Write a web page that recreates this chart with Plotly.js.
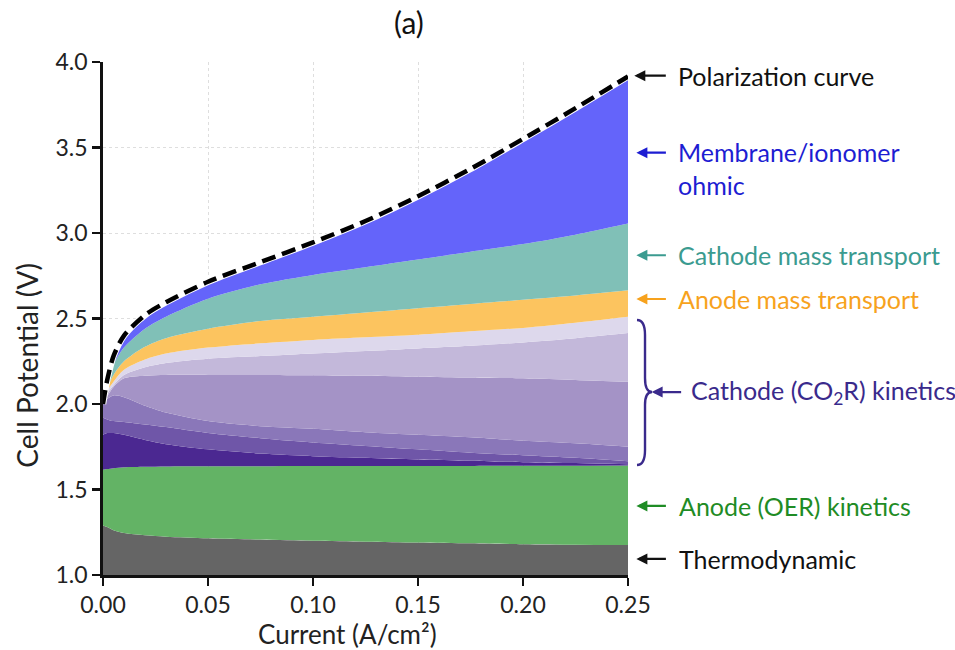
<!DOCTYPE html>
<html>
<head>
<meta charset="utf-8">
<script src="https://cdn.plot.ly/plotly-3.0.1.min.js"></script>
<style>
  html, body { margin: 0; padding: 0; background: #ffffff; }
  #chart { width: 955px; height: 650px; }
</style>
</head>
<body>
<div id="chart"></div>
<script>
// Current density (A/cm^2)
const current = [0, 0.002, 0.005, 0.01, 0.02, 0.03, 0.05, 0.075, 0.10, 0.125, 0.15, 0.175, 0.20, 0.225, 0.25];

// Cumulative cell potential (V) at the upper edge of each loss band
const thermodynamicTop   = [1.29, 1.28, 1.262, 1.245, 1.232, 1.224, 1.215, 1.207, 1.200, 1.195, 1.190, 1.185, 1.180, 1.177, 1.175];
const anodeKineticsTop   = [1.615, 1.62, 1.625, 1.63, 1.633, 1.635, 1.636, 1.636, 1.637, 1.637, 1.638, 1.638, 1.639, 1.639, 1.640];
const cathodeKin1Top     = [1.82, 1.83, 1.83, 1.82, 1.79, 1.765, 1.735, 1.71, 1.695, 1.685, 1.675, 1.668, 1.66, 1.655, 1.648];
const cathodeKin2Top     = [1.92, 1.91, 1.90, 1.895, 1.88, 1.865, 1.83, 1.80, 1.775, 1.755, 1.735, 1.715, 1.70, 1.685, 1.665];
const cathodeKin3Top     = [2.00, 2.03, 2.05, 2.04, 1.99, 1.95, 1.90, 1.87, 1.855, 1.835, 1.82, 1.805, 1.785, 1.77, 1.75];
const cathodeKin4Top     = [2.00, 2.045, 2.10, 2.15, 2.165, 2.17, 2.17, 2.17, 2.168, 2.165, 2.16, 2.155, 2.15, 2.14, 2.13];
const cathodeKin5Top     = [2.00, 2.06, 2.11, 2.17, 2.215, 2.24, 2.265, 2.28, 2.295, 2.31, 2.325, 2.34, 2.36, 2.385, 2.415];
const cathodeKin6Top     = [2.00, 2.075, 2.13, 2.20, 2.26, 2.295, 2.33, 2.355, 2.375, 2.39, 2.405, 2.425, 2.445, 2.475, 2.51];
const anodeMassTop       = [2.00, 2.09, 2.17, 2.25, 2.335, 2.385, 2.44, 2.485, 2.51, 2.535, 2.56, 2.585, 2.61, 2.635, 2.665];
const cathodeMassTop     = [2.00, 2.11, 2.23, 2.33, 2.44, 2.51, 2.615, 2.70, 2.755, 2.80, 2.845, 2.89, 2.935, 2.99, 3.055];
const ohmicTop           = [2.00, 2.13, 2.27, 2.39, 2.51, 2.59, 2.71, 2.825, 2.94, 3.065, 3.21, 3.37, 3.545, 3.722, 3.905];
const polarizationCurve  = [2.00, 2.14, 2.28, 2.40, 2.52, 2.595, 2.715, 2.83, 2.945, 3.07, 3.215, 3.375, 3.55, 3.73, 3.915];

// Axis ticks
const xTicks = [0, 0.05, 0.10, 0.15, 0.20, 0.25];
const yTicks = [1.0, 1.5, 2.0, 2.5, 3.0, 3.5, 4.0];

// Band labels on the right
const labelTexts = ['Polarization curve', 'Membrane/ionomer<br>ohmic', 'Cathode mass transport',
                    'Anode mass transport', 'Cathode (CO<sub>2</sub>R) kinetics', 'Anode (OER) kinetics', 'Thermodynamic'];
const labelVolts = [3.92, 3.47, 2.87, 2.614, 2.07, 1.404, 1.094];

const bands = [
  { y: thermodynamicTop, color: '#656565' },
  { y: anodeKineticsTop, color: '#63b365' },
  { y: cathodeKin1Top,   color: '#4b2891' },
  { y: cathodeKin2Top,   color: '#6f56a8' },
  { y: cathodeKin3Top,   color: '#8a77b9' },
  { y: cathodeKin4Top,   color: '#a493c6' },
  { y: cathodeKin5Top,   color: '#c3b8da' },
  { y: cathodeKin6Top,   color: '#ddd8ec' },
  { y: anodeMassTop,     color: '#fcc45f' },
  { y: cathodeMassTop,   color: '#80c0b7' },
  { y: ohmicTop,         color: '#6464fa' }
];

const traces = bands.map((b, i) => ({
  x: current, y: b.y, type: 'scatter', mode: 'lines',
  line: { width: 0, shape: 'spline', smoothing: 0.8 },
  fill: i === 0 ? 'tozeroy' : 'tonexty',
  fillcolor: b.color, hoverinfo: 'skip'
}));

// Polarization curve: white casing under a heavy black dash
traces.push({
  x: current, y: polarizationCurve, type: 'scatter', mode: 'lines',
  line: { color: '#ffffff', width: 6.5, shape: 'spline', smoothing: 0.8 }, hoverinfo: 'skip'
});
traces.push({
  x: current, y: polarizationCurve, type: 'scatter', mode: 'lines',
  line: { color: '#000000', width: 4.5, dash: '14px,7px', shape: 'spline', smoothing: 0.8 }, hoverinfo: 'skip'
});

const FONT = 'Lato, "Noto Sans", sans-serif';
const labelColors = ['#111111', '#1d1dd2', '#3b9b90', '#f7a21d', '#3a2a8c', '#1f8c25', '#111111'];
const labelX  = [1.091, 1.091, 1.091, 1.091, 1.116, 1.094, 1.094];
const headX   = [1.012, 1.016, 1.016, 1.016, 1.045, 1.016, 1.016];
const tailLen = [33, 31, 31, 31, 31, 31, 31];

const annotations = [];
labelTexts.forEach((t, i) => {
  const twoLine = t.indexOf('<br>') >= 0;
  annotations.push({
    xref: 'paper', yref: 'y', x: labelX[i], y: labelVolts[i],
    text: t, showarrow: false, xanchor: 'left', yanchor: 'middle',
    yshift: twoLine ? -16 : 0,
    font: { family: FONT, size: 25, color: labelColors[i] }, align: 'left'
  });
  annotations.push({
    xref: 'paper', yref: 'y', x: headX[i], y: labelVolts[i],
    text: '', showarrow: true, arrowhead: 2, arrowsize: 1, arrowwidth: 2.2,
    arrowcolor: labelColors[i], ax: tailLen[i], ay: 0, axref: 'pixel', ayref: 'pixel',
    standoff: 0, startstandoff: 0
  });
});

// Panel letter and axis titles
annotations.push({
  xref: 'paper', yref: 'paper', x: 0.583, y: 1.078, text: '(a)', showarrow: false,
  xanchor: 'center', yanchor: 'middle', font: { family: FONT, size: 30, color: '#111' }
});
annotations.push({
  xref: 'paper', yref: 'paper', x: 0.465, y: -0.115, text: 'Current (A/cm²)', showarrow: false,
  xanchor: 'center', yanchor: 'middle', font: { family: FONT, size: 26, color: '#222' }
});
annotations.push({
  xref: 'paper', yref: 'paper', x: -0.1448, y: 0.41, text: 'Cell Potential (V)', showarrow: false,
  textangle: -90, xanchor: 'center', yanchor: 'middle', font: { family: FONT, size: 28, color: '#222' }
});

const layout = {
  width: 955, height: 650,
  margin: { l: 103, r: 327, t: 62, b: 75 },
  paper_bgcolor: '#ffffff', plot_bgcolor: '#ffffff',
  showlegend: false,
  font: { family: FONT, color: '#222' },
  xaxis: {
    range: [0, 0.25], tickvals: xTicks, tickformat: '.2f',
    showgrid: true, gridcolor: '#dedede', griddash: 'dot', gridwidth: 1,
    zeroline: false, showline: true, linecolor: '#111', linewidth: 2.8,
    ticks: 'outside', ticklen: 8, tickwidth: 2.2, tickcolor: '#111',
    tickfont: { family: FONT, size: 23, color: '#222' }
  },
  yaxis: {
    range: [1, 4], tickvals: yTicks, tickformat: '.1f',
    showgrid: true, gridcolor: '#dedede', griddash: 'dot', gridwidth: 1,
    zeroline: false, showline: true, linecolor: '#111', linewidth: 2.8,
    ticks: 'outside', ticklen: 8, tickwidth: 2.2, tickcolor: '#111',
    tickfont: { family: FONT, size: 23, color: '#222' }
  },
  shapes: [{
    type: 'path', xref: 'paper', yref: 'paper',
    path: 'M 1.0171,0.4971 Q 1.0324,0.4971 1.0324,0.4678 L 1.0324,0.384 Q 1.0324,0.3567 1.0457,0.3567 ' +
          'Q 1.0324,0.3567 1.0324,0.3314 L 1.0324,0.2437 Q 1.0324,0.2144 1.0171,0.2144',
    line: { color: '#3a2a8c', width: 2.4 }
  }],
  annotations: annotations
};

Plotly.newPlot('chart', traces, layout, { staticPlot: true, displayModeBar: false });
</script>
</body>
</html>
